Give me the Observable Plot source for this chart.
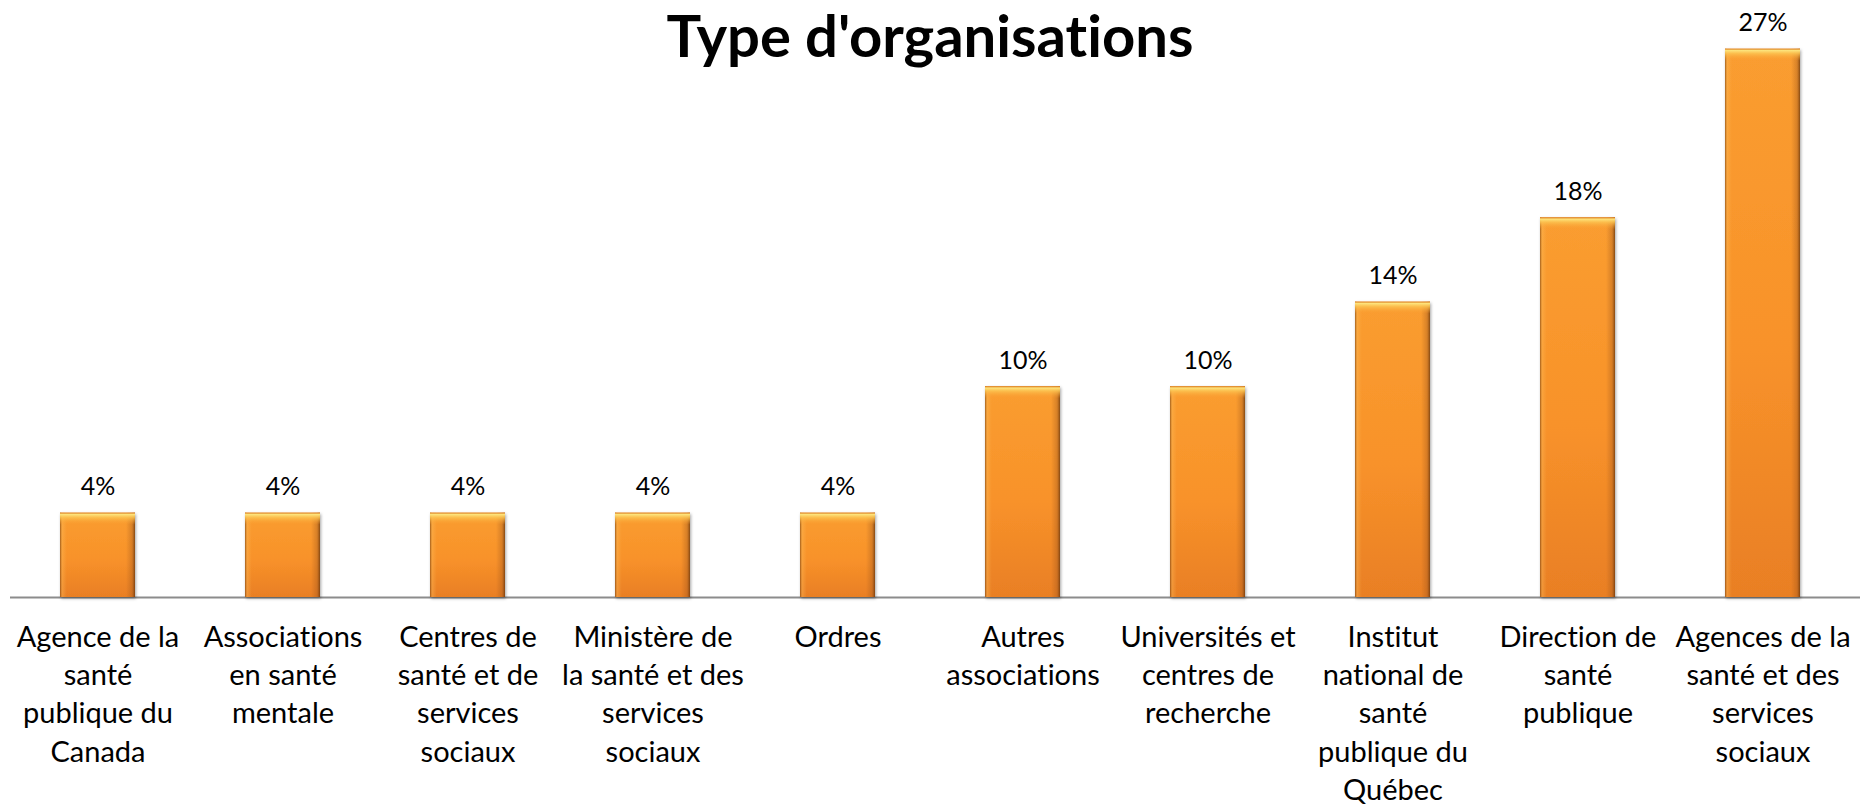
<!DOCTYPE html>
<html><head><meta charset="utf-8">
<script src="https://cdn.jsdelivr.net/npm/d3@7"></script>
<script src="https://cdn.jsdelivr.net/npm/@observablehq/plot@0.6"></script>
<style>
html,body{margin:0;padding:0;background:#fff;}
#wrap{position:relative;width:1860px;height:809px;overflow:hidden;}
#title{position:absolute;left:0;width:1860px;top:0;text-align:center;font-family:Lato,sans-serif;font-weight:700;font-size:58px;line-height:normal;color:#000;z-index:2;font-variant-ligatures:none;font-feature-settings:"liga" 0;}
#chart{position:absolute;left:0;top:0;}
#chart svg text{font-variant-ligatures:none;font-feature-settings:"liga" 0;}
</style></head><body>
<div id="wrap"><div id="title">Type d'organisations</div><div id="chart"></div></div>
<script>
const categories = [
  "Agence de la santé publique du Canada",
  "Associations en santé mentale",
  "Centres de santé et de services sociaux",
  "Ministère de la santé et des services sociaux",
  "Ordres",
  "Autres associations",
  "Universités et centres de recherche",
  "Institut national de santé publique du Québec",
  "Direction de santé publique",
  "Agences de la santé et des services sociaux"
];
const tickLabels = [
  "Agence de la\nsanté\npublique du\nCanada",
  "Associations\nen santé\nmentale",
  "Centres de\nsanté et de\nservices\nsociaux",
  "Ministère de\nla santé et des\nservices\nsociaux",
  "Ordres",
  "Autres\nassociations",
  "Universités et\ncentres de\nrecherche",
  "Institut\nnational de\nsanté\npublique du\nQuébec",
  "Direction de\nsanté\npublique",
  "Agences de la\nsanté et des\nservices\nsociaux"
];
const values = [4.08, 4.08, 4.08, 4.08, 4.08, 10.20, 10.20, 14.29, 18.37, 26.53];
const valueLabels = ["4%", "4%", "4%", "4%", "4%", "10%", "10%", "14%", "18%", "27%"];

const data = categories.map((c, i) => ({cat: c, v: values[i], label: valueLabels[i]}));
const labelMap = new Map(categories.map((c, i) => [c, tickLabels[i]]));

const chart = Plot.plot({
  width: 1860,
  height: 809,
  marginLeft: 10,
  marginRight: 0,
  marginTop: 0,
  marginBottom: 212,
  style: {fontFamily: "Lato, sans-serif", color: "#000", background: "#fff", overflow: "visible"},
  x: {domain: categories, range: [2, 1858], paddingInner: 0.596, paddingOuter: 0.298, label: null},
  y: {domain: [0, 30], range: [597, -23], axis: null},
  marks: [
    Plot.ruleY([0], {stroke: "#8c8c8c", strokeWidth: 2}),
    Plot.barY(data, {x: "cat", y: "v", fill: "url(#barV)"}),
    Plot.barY(data, {x: "cat", y: "v", fill: "url(#barH)"}),
    Plot.barY(data, {x: "cat", y1: "v", y2: "v", insetBottom: -12, fill: "url(#barTop)"}),
    Plot.text(data, {x: "cat", y: "v", text: "label", dy: -18, lineAnchor: "bottom", fontSize: 25, fill: "#000"}),
    Plot.axisX({tickSize: 0, tickPadding: 22, fontSize: 29, lineHeight: 1.32, label: null, tickFormat: d => labelMap.get(d), fill: "#000"})
  ]
});

d3.select(chart).insert("defs", ":first-child").html(`
  <linearGradient id="barV" x1="0" y1="0" x2="0" y2="1">
    <stop offset="0" stop-color="#fa9d30"/>
    <stop offset="0.55" stop-color="#f8922a"/>
    <stop offset="1" stop-color="#e97f24"/>
  </linearGradient>
  <linearGradient id="barH" x1="0" y1="0" x2="1" y2="0">
    <stop offset="0" stop-color="#6e370a" stop-opacity="0.65"/>
    <stop offset="0.03" stop-color="#fcc060" stop-opacity="0.35"/>
    <stop offset="0.09" stop-color="#fcc060" stop-opacity="0"/>
    <stop offset="0.88" stop-color="#96501a" stop-opacity="0"/>
    <stop offset="0.96" stop-color="#96501a" stop-opacity="0.35"/>
    <stop offset="1" stop-color="#5e2e08" stop-opacity="0.75"/>
  </linearGradient>
  <linearGradient id="barTop" x1="0" y1="0" x2="0" y2="1">
    <stop offset="0" stop-color="#d97a1c" stop-opacity="1"/>
    <stop offset="0.15" stop-color="#fde27a" stop-opacity="1"/>
    <stop offset="0.4" stop-color="#fcc452" stop-opacity="0.85"/>
    <stop offset="1" stop-color="#fa9d30" stop-opacity="0"/>
  </linearGradient>
  <filter id="shadow" x="-20%" y="-20%" width="140%" height="140%">
    <feDropShadow dx="1" dy="1.5" stdDeviation="1.5" flood-color="#000" flood-opacity="0.35"/>
  </filter>
`);
d3.select(chart).selectAll("g[aria-label='bar']").filter((d, i) => i === 0).attr("filter", "url(#shadow)");

document.getElementById("chart").appendChild(chart);
</script>
</body></html>
